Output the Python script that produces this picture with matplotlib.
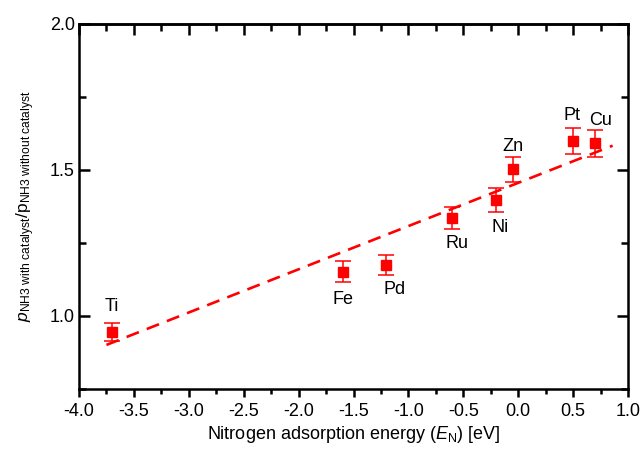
import numpy as np
import matplotlib
matplotlib.use("Agg")
import matplotlib.pyplot as plt
from matplotlib.ticker import MultipleLocator, FormatStrFormatter

plt.rcParams['font.family'] = ['Liberation Sans', 'DejaVu Sans']
plt.rcParams['mathtext.fontset'] = 'custom'
plt.rcParams['mathtext.rm'] = 'Liberation Sans'
plt.rcParams['mathtext.it'] = 'Liberation Sans:italic'
plt.rcParams['mathtext.bf'] = 'Liberation Sans:bold'

# Data
metals = ['Ti', 'Fe', 'Pd', 'Ru', 'Ni', 'Zn', 'Pt', 'Cu']
e_n = [-3.7, -1.6, -1.2, -0.6, -0.2, -0.05, 0.5, 0.7]
ratio = [0.946, 1.152, 1.175, 1.335, 1.397, 1.502, 1.600, 1.591]
err = [0.030, 0.035, 0.035, 0.037, 0.040, 0.043, 0.045, 0.045]
fit_range = [-3.75, 0.86]
fit_slope = 0.148
fit_intercept = 1.456

# label offsets (pixels) relative to points
label_dx = [0, 0, 8, 5, 4, 0, -1, 6]
label_dy = [25, -28, -25, -25, -27, 23, 25, 23]

W, H = 643, 454
fig = plt.figure(figsize=(W / 100, H / 100), dpi=100)
ax = fig.add_axes([79 / W, 1 - 389 / H, (628 - 79) / W, (389 - 24) / H])

red = '#ff0000'
fx = np.array(fit_range)
ax.plot(fx, fit_slope * fx + fit_intercept, color=red, lw=1.9, ls=(0, (5, 3.2)), zorder=2)

ax.errorbar(e_n, ratio, yerr=err, fmt='s', color=red, ms=7,
            elinewidth=1.1, capsize=6, capthick=1.1, zorder=3)

pt = 72 / 100
for m, x, y, dx, dy in zip(metals, e_n, ratio, label_dx, label_dy):
    ax.annotate(m, (x, y), xytext=(dx * pt, dy * pt), textcoords='offset points',
                ha='center', va='center', fontsize=13)

ax.set_xlim(-4.0, 1.0)
ax.set_ylim(0.75, 2.0)
ax.xaxis.set_major_locator(MultipleLocator(0.5))
ax.xaxis.set_minor_locator(MultipleLocator(0.25))
ax.yaxis.set_major_locator(MultipleLocator(0.5))
ax.yaxis.set_minor_locator(MultipleLocator(0.25))
ax.xaxis.set_major_formatter(FormatStrFormatter('%.1f'))
ax.yaxis.set_major_formatter(FormatStrFormatter('%.1f'))

for s in ax.spines.values():
    s.set_linewidth(1.8)

ax.tick_params(axis='x', which='both', direction='out', top=False, labelsize=13, width=1.8, pad=4)
ax.tick_params(axis='x', which='major', length=6)
ax.tick_params(axis='x', which='minor', length=3.5)
ax.tick_params(axis='y', which='both', direction='in', right=True, labelsize=13, width=1.8, pad=3)
ax.tick_params(axis='y', which='major', length=8)
ax.tick_params(axis='y', which='minor', length=5)

# top ticks inward
sec = ax.secondary_xaxis('top')
sec.xaxis.set_major_locator(MultipleLocator(0.5))
sec.xaxis.set_minor_locator(MultipleLocator(0.25))
sec.tick_params(which='both', direction='in', labeltop=False, width=1.8)
sec.tick_params(which='major', length=8)
sec.tick_params(which='minor', length=5)
sec.spines['top'].set_linewidth(1.8)

ax.set_xlabel(r'Nitrogen adsorption energy ($E_\mathrm{N}$) [eV]', fontsize=13, labelpad=3)
ax.set_ylabel(r'$p_\mathrm{NH3\ with\ catalyst}/\mathrm{p}_\mathrm{NH3\ without\ catalyst}$',
              fontsize=12.5, labelpad=9)

fig.savefig('out.png', dpi=100)
